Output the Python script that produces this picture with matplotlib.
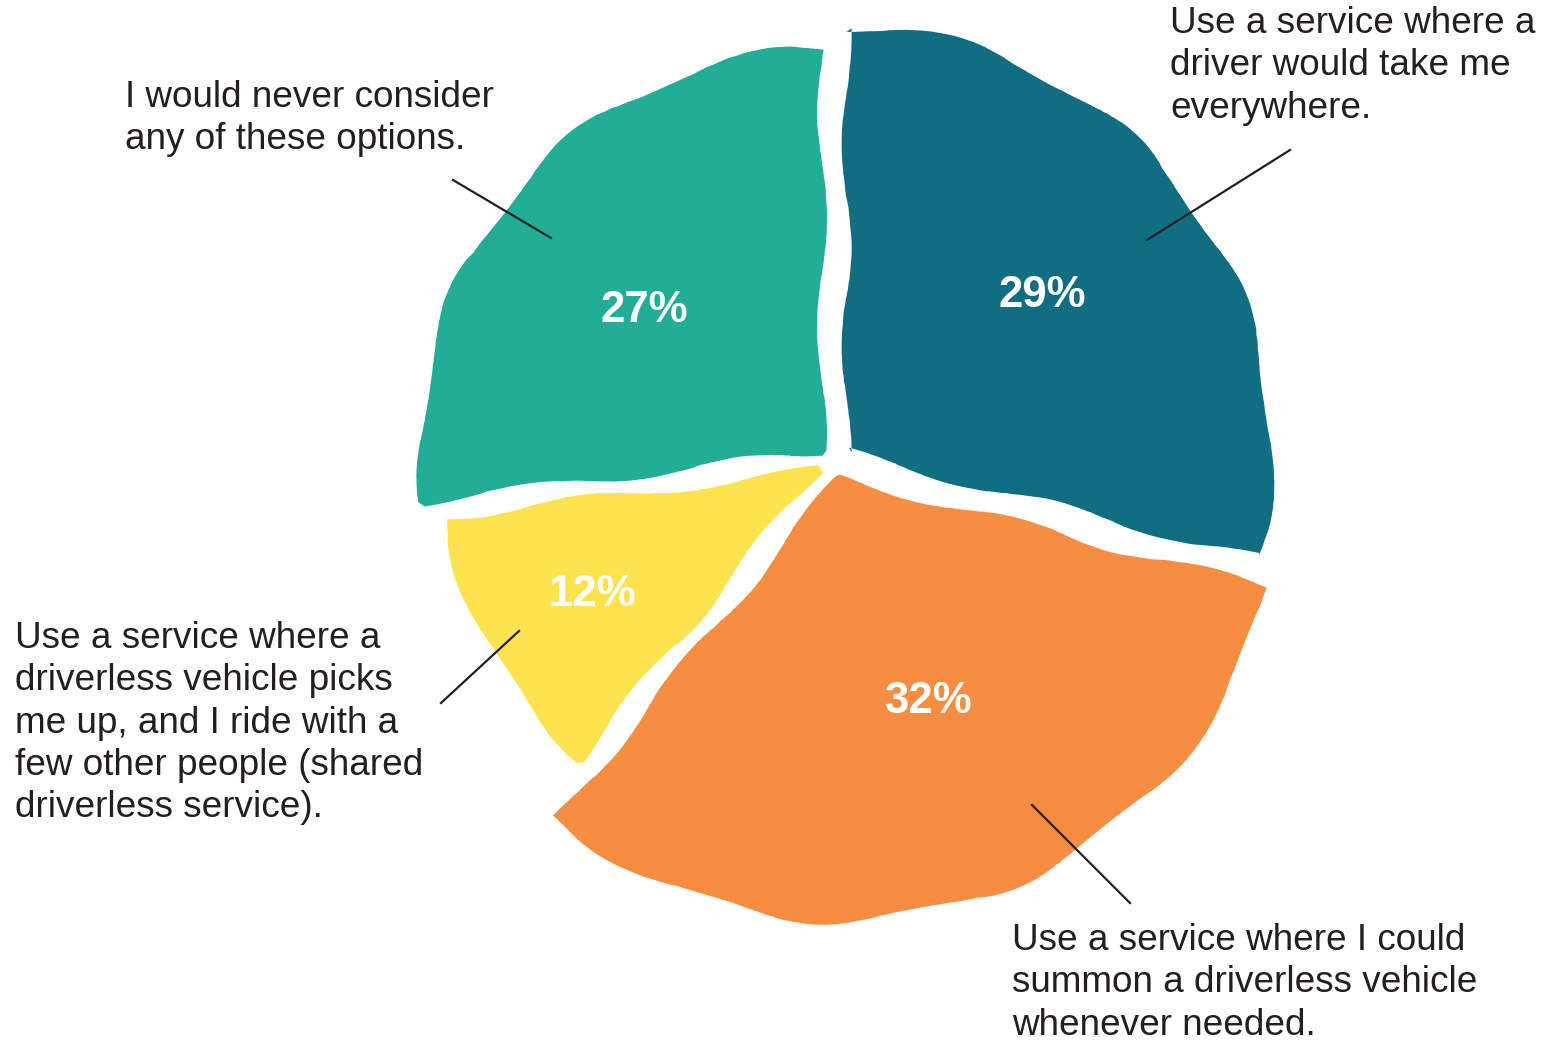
import matplotlib.pyplot as plt

# survey answers, clockwise from 12 o'clock
categories = [
    "Use a service where a\ndriver would take me\neverywhere.",
    "Use a service where I could\nsummon a driverless vehicle\nwhenever needed.",
    "Use a service where a\ndriverless vehicle picks\nme up, and I ride with a\nfew other people (shared\ndriverless service).",
    "I would never consider\nany of these options.",
]
shares = [29, 32, 12, 27]
colors = ["#116e82", "#f68d40", "#fee350", "#22ae96"]

plt.rcParams['font.family'] = ['Liberation Sans', 'DejaVu Sans']

W, H = 1555, 1040
fig = plt.figure(figsize=(W / 100, H / 100), dpi=100)
ax = fig.add_axes([0, 0, 1, 1])

cx, cy = 834, H - 462
wedges, texts, autotexts = ax.pie(
    shares, colors=colors, startangle=90, counterclock=False,
    center=(cx, cy), radius=425, explode=[16] * 4,
    autopct='%d%%', pctdistance=0.6, frame=True,
    wedgeprops=dict(linewidth=0),
    textprops=dict(color='white', fontsize=31.5, fontweight='bold'))
ax.set_xlim(0, W)
ax.set_ylim(0, H)
ax.set_aspect('equal')
ax.axis('off')

# the hand-drawn slices are not all the same size
radii = [425, 443, 376, 402]
pct_shift = [(-6, 0), (10, 18), (-4, -2), (14, -28)]
for w, r, t, (dx, dy) in zip(wedges, radii, autotexts, pct_shift):
    w.set_radius(r)
    w.set_sketch_params(scale=5, length=260, randomness=3)
    x, y = t.get_position()
    t.set_position((x + dx, y + dy))

text_color = '#231f20'
# label position (left, top in image px) and leader line (image px)
label_pos = [(1170, 6), (1012, 923), (15, 621), (125, 80)]
leaders = [((1290, 150), (1147, 240)),
           ((1130, 903), (1032, 805)),
           ((441, 703), (519, 631)),
           ((453, 180), (551, 238))]

for lab, (lx, ly), (p0, p1) in zip(categories, label_pos, leaders):
    ax.text(lx, H - ly, lab, ha='left', va='top', fontsize=26.6,
            color=text_color, linespacing=1.27)
    ax.plot([p0[0], p1[0]], [H - p0[1], H - p1[1]], color='#231f20', lw=1.6)

fig.savefig('out.png', dpi=100, facecolor='white')
